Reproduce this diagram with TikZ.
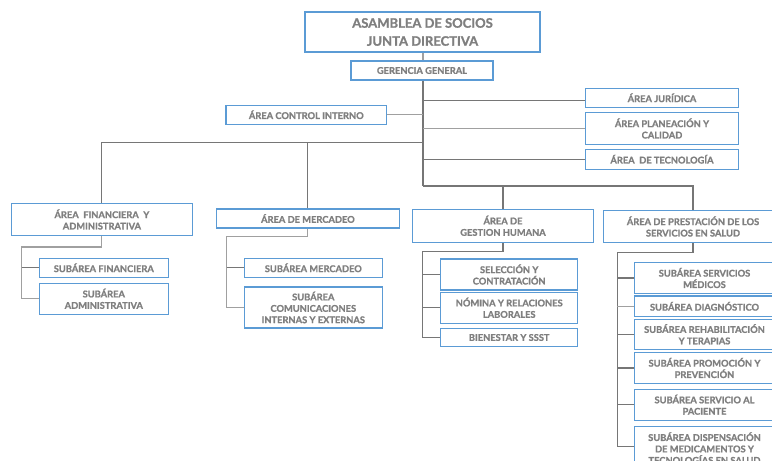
\documentclass[tikz,border=0pt]{standalone}
\usepackage{fontspec}
\setmainfont{Lato}[BoldFeatures={FakeBold=1.2}]
\definecolor{bx}{HTML}{5B9BD5}
\definecolor{tx}{HTML}{7F7F7F}
\definecolor{lnd}{HTML}{767676}
\definecolor{lnl}{HTML}{A0A0A0}
\begin{document}
\begin{tikzpicture}[x=1pt,y=-1pt,
  box/.style={draw=bx, line width=1.1pt, fill=white, text=tx, align=center, inner sep=1pt,
    font=\bfseries\fontsize{9.3}{11.4}\selectfont},
  sz/.style 2 args={minimum width=#1, minimum height=#2},
  ln/.style={draw=lnd, line width=1.1pt},
  lnlt/.style={draw=lnl, line width=1.1pt}]
\useasboundingbox (0,0) rectangle (772,461);
\clip (0,0) rectangle (772,461);
% nodes
\node[box, sz={235pt}{40pt}, font=\bfseries\fontsize{13}{18}\selectfont] (top) at (422.5,32) {ASAMBLEA DE SOCIOS\\JUNTA DIRECTIVA};
\node[box, sz={142pt}{19pt}] (ger) at (422,70.5) {GERENCIA GENERAL};
\node[box, sz={160.7pt}{19.3pt}] (ctrl) at (306.3,114.7) {ÁREA CONTROL INTERNO};
\node[box, sz={152.6pt}{19pt}] (jur) at (662,97.8) {ÁREA JURÍDICA};
\node[box, sz={152.6pt}{31.6pt}] (plan) at (662,128.5) {ÁREA PLANEACIÓN Y\\CALIDAD};
\node[box, sz={152.6pt}{19.7pt}] (tec) at (662,159.2) {ÁREA \ DE TECNOLOGÍA};
\node[box, sz={181.7pt}{32.4pt}] (fin) at (101.9,219.5) {ÁREA \ FINANCIERA \ Y\\ADMINISTRATIVA};
\node[box, sz={182.3pt}{19pt}] (mer) at (307.9,218.5) {ÁREA DE MERCADEO};
\node[box, sz={180.6pt}{33pt}] (gh) at (503,225.8) {ÁREA DE\\GESTION HUMANA};
\node[box, sz={179.4pt}{31.6pt}] (pre) at (693,226.5) {ÁREA DE PRESTACIÓN DE LOS\\SERVICIOS EN SALUD};
\node[box, sz={129pt}{19pt}] (sfin) at (103.8,267.8) {SUBÁREA FINANCIERA};
\node[box, sz={129pt}{31pt}] (sadm) at (103.8,298.8) {SUBÁREA\\ADMINISTRATIVA};
\node[box, sz={138pt}{19pt}] (smer) at (313.3,267.8) {SUBÁREA MERCADEO};
\node[box, sz={138pt}{41pt}] (scom) at (313.3,307.5) {SUBÁREA\\COMUNICACIONES\\INTERNAS Y EXTERNAS};
\node[box, sz={137pt}{31pt}] (sel) at (509.2,274.5) {SELECCIÓN Y\\CONTRATACIÓN};
\node[box, sz={137pt}{31pt}] (nom) at (509.2,307.8) {NÓMINA Y RELACIONES\\LABORALES};
\node[box, sz={137pt}{18.4pt}] (bien) at (509.2,337.5) {BIENESTAR Y SSST};
\node[box, sz={140pt}{30.6pt}] (smed) at (704.5,278) {SUBÁREA SERVICIOS\\MÉDICOS};
\node[box, sz={140pt}{20.7pt}] (sdia) at (704.5,306.3) {SUBÁREA DIAGNÓSTICO};
\node[box, sz={140pt}{30.4pt}] (sreh) at (704.5,334.3) {SUBÁREA REHABILITACIÓN\\Y TERAPIAS};
\node[box, sz={140pt}{30.6pt}] (spro) at (704.5,368) {SUBÁREA PROMOCIÓN Y\\PREVENCIÓN};
\node[box, sz={140pt}{30.7pt}] (spac) at (704.5,404.7) {SUBÁREA SERVICIO AL\\PACIENTE};
\node[box, sz={140pt}{44pt}, anchor=north] (sdis) at (704.5,425.5) {SUBÁREA DISPENSACIÓN\\DE MEDICAMENTOS Y\\TECNOLOGÍAS EN SALUD};
% junction coordinates
\coordinate (tr) at (423,186);
\coordinate (lb) at (423,142.7);
\coordinate (fa) at (21.7,247);
\coordinate (ma) at (226.7,236.7);
\coordinate (ga) at (422.7,251.7);
\coordinate (pa) at (617.3,252.7);
\coordinate (pe) at (617.3,446.7);
\coordinate (jw) at ([yshift=-3pt]jur.west);
% connectors
\draw[lnlt] (top.south -| tr) -- (ger.north -| tr);
\draw[ln] (ger.south -| tr) -- (tr);
\draw[ln] (tr |- jw) -- (jw);
\draw[lnlt] (tr |- plan.west) -- (plan.west);
\draw[ln] (tr |- tec.west) -- (tec.west);
\draw[lnlt] (ctrl.east) -- (tr |- ctrl.east);
\draw[ln] (lb) -- (fin.north |- lb) -- (fin.north);
\draw[ln] (mer.north |- lb) -- (mer.north);
\draw[ln] (tr) -- (pre.north |- tr) -- (pre.north);
\draw[ln] (gh.north |- tr) -- (gh.north);
% financiera
\draw[lnlt] (fin.south) -- (fin.south |- fa) -- (fa) -- (fa |- sadm.west) -- (sadm.west);
\draw[ln] (fa |- sfin.west) -- (sfin.west);
% mercadeo
\draw[lnlt] (mer.south) -- (mer.south |- ma) -- (ma) -- (ma |- scom.west) -- (scom.west);
\draw[ln] (ma |- smer.west) -- (smer.west);
% gestion humana
\draw[ln] (gh.south) -- (gh.south |- ga) -- (ga) -- (ga |- bien.west) -- (bien.west);
\draw[ln] (ga |- sel.west) -- (sel.west);
\draw[ln] (ga |- nom.west) -- (nom.west);
% prestacion
\draw[ln] (pre.south) -- (pre.south |- pa) -- (pa) -- (pe) -- (pe -| sdis.west);
\draw[ln] (pa |- smed.west) -- (smed.west);
\draw[lnlt] (pa |- sdia.west) -- (sdia.west);
\draw[ln] (pa |- sreh.west) -- (sreh.west);
\draw[ln] (pa |- spro.west) -- (spro.west);
\draw[ln] (pa |- spac.west) -- (spac.west);
\end{tikzpicture}
\end{document}
